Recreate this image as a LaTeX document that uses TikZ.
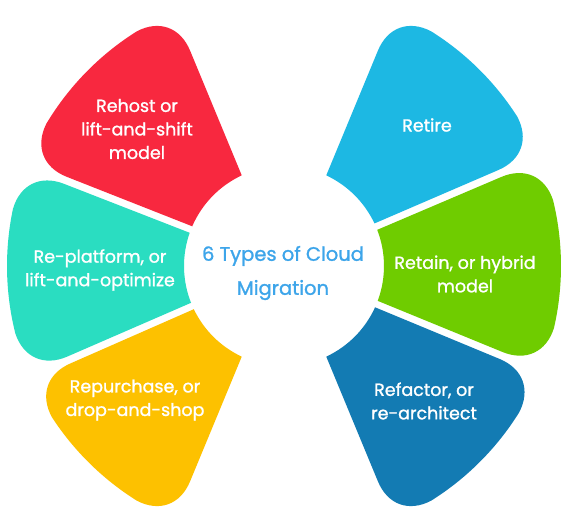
\documentclass[tikz,border=0pt]{standalone}
\usepackage{fontspec}
\setmainfont{Poppins}[FakeBold=1.2]
\usetikzlibrary{calc}
\definecolor{cred}{HTML}{F8283F}
\definecolor{cblue}{HTML}{1DB8E3}
\definecolor{cteal}{HTML}{2ADDC1}
\definecolor{cgreen}{HTML}{6FCC00}
\definecolor{cyellow}{HTML}{FDC100}
\definecolor{cdark}{HTML}{137BB3}
\definecolor{ctitle}{HTML}{3DA5EA}
\def\prin{100}
\def\prout{277}
\def\ptr{42}
\def\pk{0.6}
% colour, inner angle a, outer angle a, inner angle b, outer angle b
\newcommand\mypetal[5]{%
  \pgfmathsetmacro\pdl{\ptr/\prout*180/pi}%
  \pgfmathsetmacro\pa{#3+\pdl}%
  \pgfmathsetmacro\pb{#5-\pdl}%
  \coordinate (pA) at (#2:\prin);
  \coordinate (pB) at (#3:\prout);
  \coordinate (pD) at (#5:\prout);
  \coordinate (pE) at (#4:\prin);
  \coordinate (pB1) at ($(pB)!\ptr pt!(pA)$);
  \coordinate (pB2) at (\pa:\prout);
  \coordinate (pD1) at (\pb:\prout);
  \coordinate (pD2) at ($(pD)!\ptr pt!(pE)$);
  \fill[#1] (pA) -- (pB1)
    .. controls ($(pB1)!\pk!(pB)$) and ($(pB2)!\pk!(pB)$) .. (pB2)
    arc[start angle=\pa, end angle=\pb, radius=\prout]
    .. controls ($(pD1)!\pk!(pD)$) and ($(pD2)!\pk!(pD)$) .. (pD2)
    -- (pE) arc[start angle=#4, end angle=#2, radius=\prin] -- cycle;%
}
\tikzset{
  lbl/.style={text=white, align=center, font=\fontsize{17.5}{23.5}\selectfont},
  ttl/.style={text=ctitle, align=center, font=\fontsize{19.5}{34}\selectfont}
}
\begin{document}
\begin{tikzpicture}[x=1pt,y=1pt]
\useasboundingbox (0,0) rectangle (578,-525);
\fill[white] (0,0) rectangle (578,-525);
\begin{scope}[shift={(284,-266)}]
  \mypetal{cred}{115}{113.4}{156.6}{157.8}
  \mypetal{cteal}{160.6}{159.4}{201.6}{202.8}
  \mypetal{cyellow}{205.6}{204.4}{245}{246.6}
  \mypetal{cdark}{-65}{-66.6}{-24.4}{-23.2}
  \mypetal{cgreen}{-20.4}{-21.6}{21.2}{22.4}
  \mypetal{cblue}{25.2}{24}{65}{66.6}
\end{scope}
\node[lbl] (rehost) at (137,-129) {Rehost or\\lift-and-shift\\model};
\node[lbl] (retire) at (427,-125) {Retire};
\node[lbl] (replat) at (100,-270) {Re-platform, or\\lift-and-optimize};
\node[ttl] (title) at (283,-273) {6 Types of Cloud\\Migration};
\node[lbl] (retain) at (465,-274) {Retain, or hybrid\\model};
\node[lbl] (repur) at (135,-400) {Repurchase, or\\drop-and-shop};
\node[lbl] (refac) at (424,-401) {Refactor, or\\re-architect};
\end{tikzpicture}
\end{document}
